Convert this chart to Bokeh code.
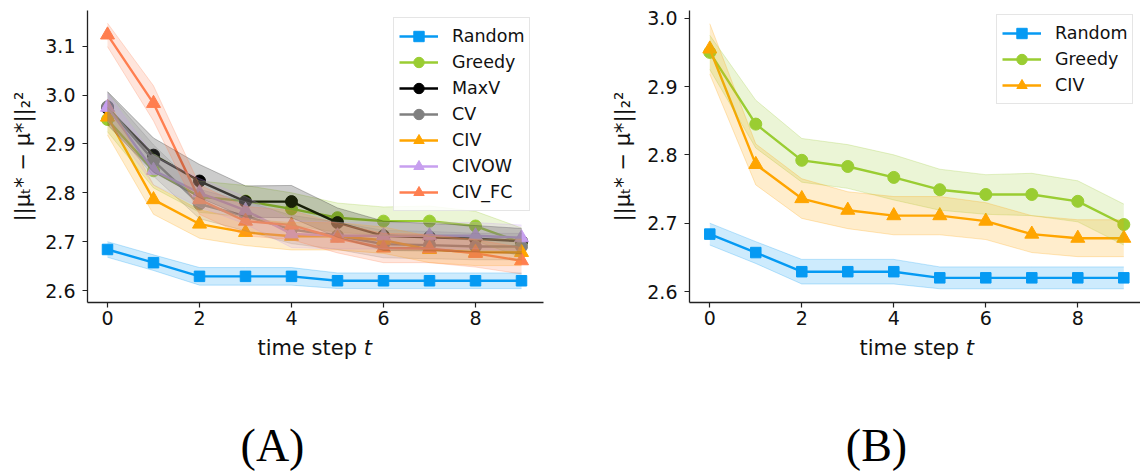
from bokeh.plotting import figure
from bokeh.models import ColumnDataSource, Band, FixedTicker, PrintfTickFormatter, Range1d, Legend
from bokeh.layouts import row, column
from bokeh.core.properties import value
from bokeh.embed import file_html
from bokeh.resources import INLINE

# ---------------- data ----------------
steps = [0, 1, 2, 3, 4, 5, 6, 7, 8, 9]

random_mean = [2.684, 2.657, 2.629, 2.629, 2.629, 2.620, 2.620, 2.620, 2.620, 2.620]
random_std = [0.016, 0.016, 0.018, 0.018, 0.018, 0.016, 0.016, 0.016, 0.016, 0.016]

greedy_mean = [2.950, 2.845, 2.792, 2.783, 2.767, 2.749, 2.742, 2.742, 2.732, 2.698]
greedy_std = [0.025, 0.035, 0.032, 0.032, 0.033, 0.030, 0.029, 0.031, 0.030, 0.030]

maxv_mean = [2.973, 2.877, 2.824, 2.782, 2.782, 2.739, 2.712, 2.709, 2.706, 2.701]
maxv_std = [0.034, 0.035, 0.034, 0.032, 0.033, 0.030, 0.030, 0.028, 0.027, 0.026]

cv_mean = [2.976, 2.866, 2.777, 2.752, 2.725, 2.712, 2.695, 2.693, 2.690, 2.690]
cv_std = [0.030, 0.032, 0.030, 0.030, 0.029, 0.028, 0.028, 0.028, 0.027, 0.027]

civ_mean = [2.955, 2.786, 2.736, 2.719, 2.711, 2.711, 2.703, 2.684, 2.678, 2.678]
civ_std = [0.037, 0.030, 0.029, 0.027, 0.028, 0.028, 0.027, 0.027, 0.027, 0.027]

civow_mean = [2.975, 2.846, 2.800, 2.764, 2.716, 2.712, 2.712, 2.712, 2.712, 2.708]
civow_std = [0.028, 0.030, 0.029, 0.028, 0.028, 0.027, 0.027, 0.027, 0.027, 0.026]

civfc_mean = [3.123, 2.983, 2.786, 2.742, 2.734, 2.707, 2.687, 2.686, 2.676, 2.661]
civfc_std = [0.024, 0.036, 0.030, 0.030, 0.030, 0.030, 0.030, 0.029, 0.028, 0.027]

x_ticks = [0, 2, 4, 6, 8]
y_ticks_a = [2.6, 2.7, 2.8, 2.9, 3.0, 3.1]
y_ticks_b = [2.6, 2.7, 2.8, 2.9, 3.0]

y_label = "||μₜ* − μ*||₂²"
x_label_main = "time step "
x_label_var = "t"
panel_labels = ["(A)", "(B)"]

# name, mean, std, color, marker
series_a = [
    ("Random", random_mean, random_std, "#069af3", "square"),
    ("Greedy", greedy_mean, greedy_std, "#9acd32", "circle"),
    ("MaxV", maxv_mean, maxv_std, "#000000", "circle"),
    ("CV", cv_mean, cv_std, "#808080", "circle"),
    ("CIV", civ_mean, civ_std, "#ffa500", "triangle"),
    ("CIVOW", civow_mean, civow_std, "#c79fef", "triangle"),
    ("CIV_FC", civfc_mean, civfc_std, "#ff7f50", "triangle"),
]
series_b = [
    ("Random", random_mean, random_std, "#069af3", "square"),
    ("Greedy", greedy_mean, greedy_std, "#9acd32", "circle"),
    ("CIV", civ_mean, civ_std, "#ffa500", "triangle"),
]

FONT = "DejaVu Sans"
TXT = "#111111"
MSIZE = {"square": 10.5, "circle": 12, "triangle": 14}
TOP_H = 333


def make_panel(series, xr, yr, yticks, ml, mr, legend_xy, ylabel_standoff):
    p = figure(width=570, height=TOP_H, output_backend="svg", toolbar_location=None,
               x_range=Range1d(*xr), y_range=Range1d(*yr),
               min_border_left=ml, min_border_right=mr, min_border_top=10,
               min_border_bottom=31)
    p.outline_line_color = None
    p.grid.visible = False

    items = []
    for name, mean, std, color, marker in series:
        lower = [m - s for m, s in zip(mean, std)]
        upper = [m + s for m, s in zip(mean, std)]
        src = ColumnDataSource(dict(x=steps, y=mean, lower=lower, upper=upper))
        band = Band(base="x", lower="lower", upper="upper", source=src,
                    fill_color=color, fill_alpha=0.2, line_color=color,
                    line_alpha=0.25, line_width=1, level="glyph")
        p.add_layout(band)
        ln = p.line("x", "y", source=src, line_color=color, line_width=2.4)
        sc = p.scatter("x", "y", source=src, marker=marker, size=MSIZE[marker],
                       fill_color=color, line_color=color)
        items.append((name, [ln, sc]))

    legend = Legend(items=items, location=legend_xy, margin=0,
                    label_text_font=FONT, label_text_font_size="17.5px",
                    label_text_color=TXT,
                    glyph_width=39, glyph_height=26, label_height=26,
                    label_width=62, label_standoff=14, spacing=0, padding=5,
                    border_line_color="#cccccc", border_line_width=1,
                    background_fill_alpha=0.85)
    p.add_layout(legend, "center")

    for ax in (p.xaxis[0], p.yaxis[0]):
        ax.axis_line_color = "#222222"
        ax.axis_line_width = 1.3
        ax.major_tick_line_color = "#222222"
        ax.major_tick_line_width = 1.2
        ax.major_tick_out = 5
        ax.major_tick_in = 0
        ax.minor_tick_line_color = None
        ax.major_label_text_font = FONT
        ax.major_label_text_font_size = "19px"
        ax.major_label_text_color = TXT
    p.xaxis.ticker = FixedTicker(ticks=x_ticks)
    p.yaxis.ticker = FixedTicker(ticks=yticks)
    p.yaxis.formatter = PrintfTickFormatter(format="%.1f")
    p.xaxis.major_label_standoff = 3
    p.yaxis.major_label_standoff = 7
    p.yaxis.axis_label = y_label
    p.yaxis.axis_label_text_font = FONT
    p.yaxis.axis_label_text_font_size = "21px"
    p.yaxis.axis_label_text_font_style = "normal"
    p.yaxis.axis_label_text_color = TXT
    p.yaxis.axis_label_standoff = ylabel_standoff
    return p


pa = make_panel(series_a, (-0.435, 9.478), (2.5755, 3.173), y_ticks_a,
                ml=87, mr=27, legend_xy=(306, 91), ylabel_standoff=7)
pb = make_panel(series_b, (-0.441, 9.363), (2.5839, 3.0113), y_ticks_b,
                ml=119, mr=0, legend_xy=(307, 198), ylabel_standoff=9)

# caption strip below the panels (axis label "time step t" and panel letters)
CAP_H = 474 - TOP_H
cap = figure(width=1140, height=CAP_H, output_backend="svg", toolbar_location=None,
             x_range=Range1d(0, 1140), y_range=Range1d(CAP_H, 0),
             x_axis_type=None, y_axis_type=None,
             min_border_left=0, min_border_right=0, min_border_top=0, min_border_bottom=0)
cap.outline_line_color = None
cap.grid.visible = False

xl_split = [363.2, 965.2]
xl_y = [347 - TOP_H, 347 - TOP_H]
cap.text(x=xl_split, y=xl_y, text=[x_label_main, x_label_main], text_align="right",
         text_baseline="middle", text_font=value(FONT), text_font_size="21px",
         text_color=TXT)
cap.text(x=xl_split, y=xl_y, text=[x_label_var, x_label_var], text_align="left",
         text_baseline="middle", text_font=value(FONT), text_font_size="21px",
         text_font_style="italic", text_color=TXT)
cap.text(x=[272, 876], y=[445 - TOP_H, 445 - TOP_H], text=panel_labels,
         text_align="center", text_baseline="middle",
         text_font=value("Liberation Serif"), text_font_size="46px", text_color="#000000")

layout = column(row(pa, pb), cap)
open("out.html", "w").write(file_html(layout, INLINE))
